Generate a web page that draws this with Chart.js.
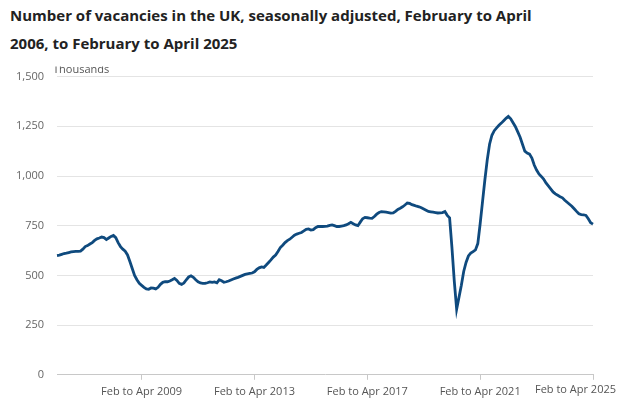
<!DOCTYPE html>
<html lang="en">
<head>
  <meta charset="UTF-8">
  <meta name="viewport" content="width=device-width, initial-scale=1.0">
  <title>Number of vacancies in the UK</title>
  <script src="https://cdn.jsdelivr.net/npm/chart.js@4.4.2/dist/chart.umd.min.js"></script>
  <style>
    html, body {
      margin: 0;
      padding: 0;
      background: #fff;
    }
    body {
      font-family: 'Open Sans', sans-serif;
      width: 634px;
      height: 412px;
      overflow: hidden;
    }
    h1 {
      margin: 1px 0 0 10px;
      font-size: 15px;
      line-height: 28px;
      font-weight: 700;
      color: #222;
    }
    .chart-box {
      position: relative;
      width: 634px;
      height: 355px;
    }
  </style>
</head>
<body>
  <h1>Number of vacancies in the UK, seasonally adjusted, February to April<br>2006, to February to April 2025</h1>
  <div class="chart-box">
    <canvas id="vacanciesChart"></canvas>
  </div>

  <script>
    const monthNames = ['Jan', 'Feb', 'Mar', 'Apr', 'May', 'Jun', 'Jul', 'Aug', 'Sep', 'Oct', 'Nov', 'Dec'];

    // rolling three-month periods, Feb to Apr 2006 ... Feb to Apr 2025
    const periods = [];
    for (let i = 0; i <= 228; i++) {
      const start = 1 + i;                 // month index of first month (Feb = 1)
      const end = start + 2;
      const year = 2006 + Math.floor(end / 12);
      periods.push(monthNames[start % 12] + ' to ' + monthNames[end % 12] + ' ' + year);
    }

    // thousands, one row per year starting at Feb to Apr
    const vacancies = [
      600, 602, 606, 610, 612, 615, 618, 620, 621, 621, 622, 632,
      645, 650, 658, 665, 676, 684, 688, 693, 690, 680, 688, 696,
      701, 690, 665, 645, 632, 622, 603, 570, 535, 500, 478, 460,
      450, 440, 432, 430, 437, 436, 432, 440, 455, 465, 468, 468,
      472, 478, 485, 475, 460, 455, 462, 478, 492, 498, 490, 478,
      468, 462, 460, 460, 463, 467, 465, 467, 463, 478, 473, 466,
      468, 472, 477, 482, 486, 490, 495, 500, 505, 508, 510, 512,
      518, 530, 538, 543, 540, 552, 565, 578, 592, 602, 620, 640,
      652, 665, 675, 682, 692, 702, 708, 712, 716, 724, 732, 734,
      728, 730, 740, 746, 746, 746, 747, 748, 752, 754, 750, 746,
      746, 748, 750, 754, 760, 767, 760, 754, 750, 768, 785, 792,
      790, 788, 787, 796, 808, 816, 821, 820, 818, 816, 813, 814,
      822, 832, 838, 845, 854, 864, 862, 856, 852, 848, 845, 840,
      834, 828, 822, 820, 818, 816, 814, 815, 816, 821, 802, 790,
      640, 470, 330, 390, 450, 520, 565, 598, 612, 620, 628, 660,
      760, 870, 980, 1080, 1160, 1205, 1228, 1242, 1255, 1266, 1278, 1290,
      1300, 1288, 1268, 1248, 1222, 1195, 1160, 1125, 1115, 1110, 1090, 1055,
      1030, 1010, 998, 985, 965, 950, 935, 920, 910, 903, 896, 890,
      878, 868, 858, 848, 835, 822, 810, 806, 805, 802, 785, 765,
      758
    ];

    const xTickLabels = ['Feb to Apr 2009', 'Feb to Apr 2013', 'Feb to Apr 2017', 'Feb to Apr 2021', 'Feb to Apr 2025'];
    const yTicks = [0, 250, 500, 750, 1000, 1250, 1500];
    const unitLabel = 'Thousands';

    const lastIndex = periods.length - 1;
    const isShown = i => xTickLabels.includes(periods[i]);

    // axis unit at the top and the last x label, pushed a bit past its tick like the original
    const extraText = {
      id: 'extraText',
      afterDraw(chart) {
        const { ctx, chartArea, scales } = chart;
        ctx.save();
        ctx.font = '11px "Open Sans"';
        ctx.fillStyle = '#555';
        ctx.textBaseline = 'middle';
        ctx.textAlign = 'left';
        ctx.beginPath();
        ctx.rect(0, chartArea.top - 10, chart.width, 20);
        ctx.clip();
        ctx.fillText(unitLabel, chartArea.left - 4, chartArea.top - 7);
        ctx.restore();

        const x = scales.x.getPixelForValue(lastIndex);
        ctx.save();
        ctx.font = '11px "Open Sans"';
        ctx.fillStyle = '#555';
        ctx.textAlign = 'right';
        ctx.textBaseline = 'top';
        ctx.fillText(periods[lastIndex], x + 23, chartArea.bottom + 10);
        ctx.restore();
      }
    };

    new Chart(document.getElementById('vacanciesChart'), {
      type: 'line',
      data: {
        labels: periods,
        datasets: [{
          label: 'Vacancies',
          data: vacancies,
          borderColor: '#0f4a7e',
          borderWidth: 2.8,
          pointRadius: 0,
          tension: 0,
          fill: false
        }]
      },
      options: {
        responsive: true,
        maintainAspectRatio: false,
        animation: false,
        layout: { padding: { left: 3, right: 41, top: 7, bottom: 9 } },
        plugins: {
          legend: { display: false },
          tooltip: { enabled: false },
          title: { display: false }
        },
        scales: {
          x: {
            grid: {
              drawOnChartArea: false,
              tickLength: 5,
              tickColor: ctx => isShown(ctx.index) ? '#c8c8c8' : 'rgba(0,0,0,0)'
            },
            border: { color: '#c8c8c8' },
            ticks: {
              autoSkip: false,
              maxRotation: 0,
              minRotation: 0,
              padding: 5,
              color: '#555',
              font: { family: 'Open Sans', size: 11 },
              callback: (value, i) => (isShown(i) && i !== lastIndex) ? periods[i] : ''
            }
          },
          y: {
            min: yTicks[0],
            max: yTicks[yTicks.length - 1],
            afterBuildTicks: axis => { axis.ticks = yTicks.map(v => ({ value: v })); },
            border: { display: false },
            grid: {
              drawTicks: false,
              color: ctx => ctx.tick && ctx.tick.value === 0 ? 'rgba(0,0,0,0)' : '#e4e4e4'
            },
            ticks: {
              padding: 13,
              color: '#666',
              font: { family: 'Open Sans', size: 11 },
              callback: v => v.toLocaleString('en-GB')
            }
          }
        }
      },
      plugins: [extraText]
    });
  </script>
</body>
</html>
